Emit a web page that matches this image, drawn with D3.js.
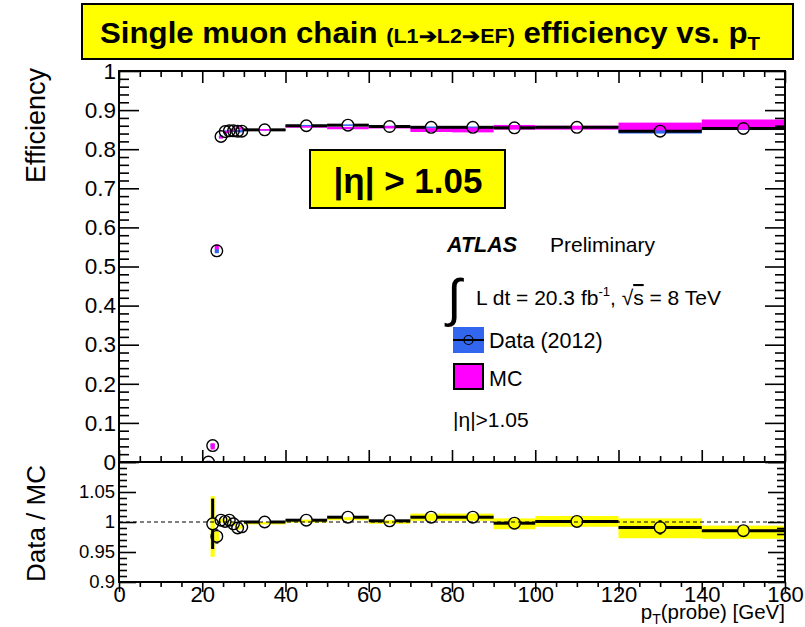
<!DOCTYPE html>
<html>
<head>
<meta charset="utf-8">
<script src="https://cdn.jsdelivr.net/npm/d3@7"></script>
<style>
  body { margin: 0; background: #fff; }
  text { font-family: "Liberation Sans", Arial, Helvetica, sans-serif; }
</style>
</head>
<body>
<div id="chart"></div>
<script>
// bins in pT (GeV)
const binLo = [21, 22, 23, 24, 25, 26, 27, 28, 29, 30, 40, 50, 60, 70, 80, 90, 100, 120, 140];
const binHi = [22, 23, 24, 25, 26, 27, 28, 29, 30, 40, 50, 60, 70, 80, 90, 100, 120, 140, 160];

// efficiency, data 2012 and MC
const dataEff = [0.0, 0.042, 0.540, 0.8325, 0.845, 0.847, 0.847, 0.846, 0.846, 0.8495, 0.860, 0.8615, 0.858, 0.856, 0.856, 0.8547, 0.856, 0.846, 0.853];
const dataErr = [0.003, 0.004, 0.006, 0.003, 0.003, 0.003, 0.003, 0.003, 0.003, 0.002, 0.002, 0.002, 0.002, 0.002, 0.002, 0.003, 0.003, 0.006, 0.004];
const mcEff = [0.0, 0.040, 0.550, 0.830, 0.844, 0.845, 0.8495, 0.8545, 0.853, 0.8495, 0.857, 0.854, 0.856, 0.849, 0.849, 0.856, 0.855, 0.858, 0.863];
const mcErr = [0.003, 0.008, 0.006, 0.003, 0.003, 0.003, 0.003, 0.003, 0.003, 0.002, 0.002, 0.003, 0.003, 0.005, 0.006, 0.006, 0.005, 0.010, 0.013];

// data / MC ratio (first bin has none)
const ratio = [null, 0.997, 0.976, 1.003, 1.001, 1.003, 0.997, 0.990, 0.992, 1.000, 1.003, 1.008, 1.002, 1.008, 1.008, 0.998, 1.001, 0.991, 0.9856];
const ratioErr = [null, 0.042, 0.012, 0.004, 0.004, 0.004, 0.004, 0.004, 0.004, 0.002, 0.002, 0.002, 0.002, 0.003, 0.003, 0.003, 0.004, 0.012, 0.006];
const bandLo = [null, 0.942, 0.968, 0.999, 0.998, 0.999, 0.994, 0.987, 0.989, 0.996, 0.999, 1.003, 0.997, 1.002, 1.002, 0.988, 0.992, 0.973, 0.972];
const bandHi = [null, 1.043, 0.984, 1.006, 1.004, 1.006, 1.000, 0.994, 0.995, 1.000, 1.004, 1.008, 1.003, 1.014, 1.014, 1.006, 1.010, 1.006, 0.994];

const bins = binLo.map((lo, i) => ({
  lo: lo, hi: binHi[i], c: (lo + binHi[i]) / 2,
  d: dataEff[i], de: dataErr[i], m: mcEff[i], me: mcErr[i],
  r: ratio[i], re: ratioErr[i], bl: bandLo[i], bh: bandHi[i]
}));

const W = 805, H = 627;
const left = 119, right = 785, topY = 71, midY = 462, botY = 582;
const R = 5.8;

const svg = d3.select("#chart").append("svg")
  .attr("width", W).attr("height", H);

const x = d3.scaleLinear().domain([0, 160]).range([left, right]);
const y = d3.scaleLinear().domain([0, 1]).range([midY, topY]);
const yr = d3.scaleLinear().domain([0.9, 1.1]).range([botY, midY]);

// clip for the two pads
svg.append("clipPath").attr("id", "clipTop")
  .append("rect").attr("x", left).attr("y", topY).attr("width", right - left).attr("height", midY - topY);
svg.append("clipPath").attr("id", "clipBot")
  .append("rect").attr("x", left).attr("y", midY).attr("width", right - left).attr("height", botY - midY);

// ---------- upper pad ----------
const gTop = svg.append("g").attr("clip-path", "url(#clipTop)");

gTop.selectAll("rect.data")
  .data(bins).enter().append("rect")
  .attr("x", d => x(d.lo)).attr("width", d => x(d.hi) - x(d.lo))
  .attr("y", d => y(d.d + d.de)).attr("height", d => y(d.d - d.de) - y(d.d + d.de))
  .attr("fill", "#3366ee");

gTop.selectAll("rect.mc")
  .data(bins).enter().append("rect")
  .attr("x", d => x(d.lo)).attr("width", d => x(d.hi) - x(d.lo))
  .attr("y", d => y(d.m + d.me)).attr("height", d => y(d.m - d.me) - y(d.m + d.me))
  .attr("fill", "#ff00ff");

// horizontal bin lines with a gap for the marker
function binLines(g, data, yv, ys) {
  data.forEach(d => {
    const cx = x(d.c), yy = ys(yv(d));
    if (x(d.lo) < cx - R) g.append("line").attr("x1", x(d.lo)).attr("x2", cx - R).attr("y1", yy).attr("y2", yy);
    if (x(d.hi) > cx + R) g.append("line").attr("x1", cx + R).attr("x2", x(d.hi)).attr("y1", yy).attr("y2", yy);
  });
}
const topLines = gTop.append("g").attr("stroke", "#000").attr("stroke-width", 3);
binLines(topLines, bins, d => d.d, y);

gTop.selectAll("circle.pt")
  .data(bins).enter().append("circle")
  .attr("cx", d => x(d.c)).attr("cy", d => y(d.d)).attr("r", R)
  .attr("fill", "none").attr("stroke", "#000").attr("stroke-width", 1.4);

// ---------- lower pad ----------
const rbins = bins.filter(d => d.r !== null);
const gBot = svg.append("g").attr("clip-path", "url(#clipBot)");

gBot.selectAll("rect.band")
  .data(rbins).enter().append("rect")
  .attr("x", d => x(d.lo)).attr("width", d => x(d.hi) - x(d.lo))
  .attr("y", d => yr(d.bh)).attr("height", d => yr(d.bl) - yr(d.bh))
  .attr("fill", "#ffff00");

gBot.append("line")
  .attr("x1", left).attr("x2", right).attr("y1", yr(1)).attr("y2", yr(1))
  .attr("stroke", "#000").attr("stroke-width", 1).attr("stroke-dasharray", "4,3");

const botLines = gBot.append("g").attr("stroke", "#000").attr("stroke-width", 3);
binLines(botLines, rbins, d => d.r, yr);
rbins.forEach(d => {
  const cx = x(d.c);
  if (yr(d.r + d.re) < yr(d.r) - R)
    botLines.append("line").attr("x1", cx).attr("x2", cx).attr("y1", yr(d.r + d.re)).attr("y2", yr(d.r) - R);
  if (yr(d.r - d.re) > yr(d.r) + R)
    botLines.append("line").attr("x1", cx).attr("x2", cx).attr("y1", yr(d.r) + R).attr("y2", yr(d.r - d.re));
});

gBot.selectAll("circle.rpt")
  .data(rbins).enter().append("circle")
  .attr("cx", d => x(d.c)).attr("cy", d => yr(d.r)).attr("r", R)
  .attr("fill", "none").attr("stroke", "#000").attr("stroke-width", 1.4);

// ---------- axes ----------
function ticks(axisFn, scale, vals, len, labels, fontSize, pad, tx, ty) {
  const a = axisFn(scale).tickValues(vals).tickSize(-len).tickPadding(pad);
  if (labels) a.tickFormat(labels); else a.tickFormat("");
  const g = svg.append("g").attr("transform", `translate(${tx},${ty})`).call(a);
  g.select(".domain").remove();
  g.selectAll("line").attr("stroke", "#000").attr("stroke-width", 1.6);
  g.selectAll("text").attr("font-size", fontSize).attr("fill", "#000")
    .style("font-family", '"Liberation Sans", Arial, sans-serif');
  return g;
}
const xMajor = d3.range(0, 161, 20);
const xMinor = d3.range(0, 161, 5).filter(v => v % 20 !== 0);
const yMajor = d3.range(0, 11).map(v => v / 10);
const yMinor = d3.range(0, 51).map(v => v / 50).filter((v, i) => i % 5 !== 0);
const rMajor = [0.9, 0.95, 1, 1.05, 1.1];
const rMinor = d3.range(0, 21).map(v => 0.9 + v / 100).filter((v, i) => i % 5 !== 0);
const yFmt = d => d === 0 ? "0" : d === 1 ? "1" : d3.format(".1f")(d);
const rFmt = d => d === 1.1 ? "" : d === 1 ? "1" : String(+d.toFixed(2));

// upper pad
ticks(d3.axisLeft, y, yMajor, 20, yFmt, 22.5, 3, left, 0);
ticks(d3.axisLeft, y, yMinor, 10, null, 0, 0, left, 0);
ticks(d3.axisRight, y, yMajor, 20, null, 0, 0, right, 0);
ticks(d3.axisRight, y, yMinor, 10, null, 0, 0, right, 0);
ticks(d3.axisTop, x, xMajor, 12, null, 0, 0, 0, topY);
ticks(d3.axisTop, x, xMinor, 6, null, 0, 0, 0, topY);
ticks(d3.axisBottom, x, xMajor, 12, null, 0, 0, 0, midY);
ticks(d3.axisBottom, x, xMinor, 6, null, 0, 0, 0, midY);

// lower pad
ticks(d3.axisLeft, yr, rMajor, 17, rFmt, 18.5, 4, left, 0);
ticks(d3.axisLeft, yr, rMinor, 8, null, 0, 0, left, 0);
ticks(d3.axisRight, yr, rMajor, 17, null, 0, 0, right, 0);
ticks(d3.axisRight, yr, rMinor, 8, null, 0, 0, right, 0);
ticks(d3.axisTop, x, xMajor, 10, d => d, 22, 4, 0, botY)
  .selectAll("text").attr("dy", null).attr("y", 20);
ticks(d3.axisTop, x, xMinor, 5, null, 0, 0, 0, botY);

// frames
svg.append("rect").attr("x", left).attr("y", topY).attr("width", right - left).attr("height", midY - topY)
  .attr("fill", "none").attr("stroke", "#000").attr("stroke-width", 2);
svg.append("rect").attr("x", left).attr("y", midY).attr("width", right - left).attr("height", botY - midY)
  .attr("fill", "none").attr("stroke", "#000").attr("stroke-width", 2);

// axis titles
svg.append("text").attr("transform", "translate(45,68) rotate(-90)")
  .attr("text-anchor", "end").attr("font-size", 27).text("Efficiency");
svg.append("text").attr("transform", "translate(45,465) rotate(-90)")
  .attr("text-anchor", "end").attr("font-size", 26).text("Data / MC");
const xt = svg.append("text").attr("x", right).attr("y", 619)
  .attr("text-anchor", "end").attr("font-size", 20.5);
xt.append("tspan").text("p");
xt.append("tspan").attr("font-size", 14).attr("dy", 5).text("T");
xt.append("tspan").attr("dy", -5).text("(probe) [GeV]");

// title box
svg.append("rect").attr("x", 82).attr("y", 4).attr("width", 711).attr("height", 55)
  .attr("fill", "#ffff00").attr("stroke", "#000").attr("stroke-width", 2);
const tt = svg.append("text").attr("x", 100).attr("y", 43)
  .attr("font-size", 29).attr("font-weight", "bold")
  .attr("textLength", 660).attr("lengthAdjust", "spacingAndGlyphs");
tt.append("tspan").text("Single muon chain ");
tt.append("tspan").attr("font-size", 20).text("(L1\u2794L2\u2794EF)");
tt.append("tspan").text(" efficiency vs. p");
tt.append("tspan").attr("font-size", 19).attr("dy", 7).text("T");

// |eta| box
svg.append("rect").attr("x", 310).attr("y", 150).attr("width", 195).attr("height", 58)
  .attr("fill", "#ffff00").attr("stroke", "#000").attr("stroke-width", 2);
svg.append("text").attr("x", 408).attr("y", 193).attr("text-anchor", "middle")
  .attr("font-size", 35).attr("font-weight", "bold").text("|\u03b7| > 1.05");

// ATLAS label & legend
svg.append("text").attr("x", 447).attr("y", 252).attr("font-size", 21.5)
  .attr("font-weight", "bold").attr("font-style", "italic").text("ATLAS");
svg.append("text").attr("x", 550).attr("y", 252).attr("font-size", 21).text("Preliminary");
svg.append("text").attr("x", 447).attr("y", 316).attr("font-size", 52).text("\u222b");
const lum = svg.append("text").attr("x", 476).attr("y", 305).attr("font-size", 21);
lum.append("tspan").text("L dt = 20.3 fb");
lum.append("tspan").attr("font-size", 13).attr("dy", -9).text("-1");
lum.append("tspan").attr("dy", 9).text(",   \u221a");
lum.append("tspan").attr("text-decoration", "overline").text("s");
lum.append("tspan").text(" = 8 TeV");

svg.append("rect").attr("x", 453).attr("y", 327).attr("width", 31).attr("height", 26).attr("fill", "#3366ee");
svg.append("line").attr("x1", 453).attr("x2", 484).attr("y1", 340).attr("y2", 340)
  .attr("stroke", "#000").attr("stroke-width", 2);
svg.append("circle").attr("cx", 468.5).attr("cy", 340).attr("r", 4.5)
  .attr("fill", "none").attr("stroke", "#000").attr("stroke-width", 1.2);
svg.append("text").attr("x", 489).attr("y", 348).attr("font-size", 21.5).text("Data (2012)");

svg.append("rect").attr("x", 454).attr("y", 364).attr("width", 29).attr("height", 25)
  .attr("fill", "#ff00ff").attr("stroke", "#000").attr("stroke-width", 2);
svg.append("text").attr("x", 489).attr("y", 386).attr("font-size", 21.5).text("MC");

svg.append("text").attr("x", 453).attr("y", 427).attr("font-size", 21).text("|\u03b7|>1.05");
</script>
</body>
</html>
